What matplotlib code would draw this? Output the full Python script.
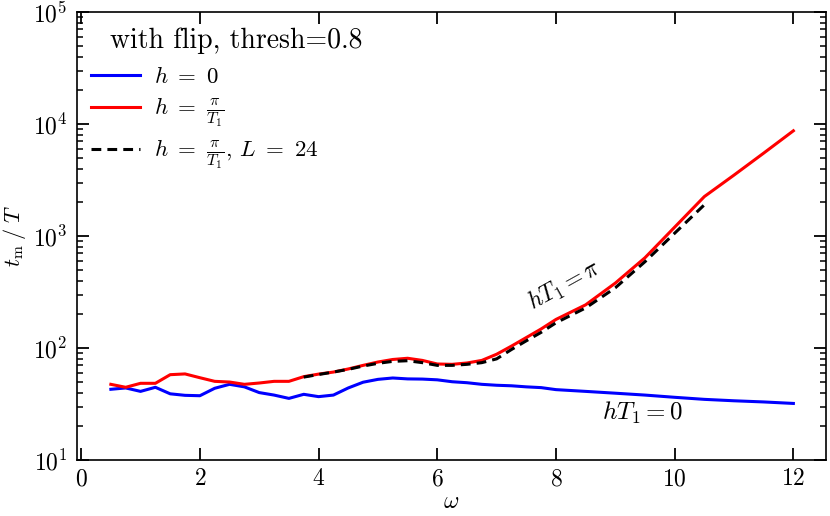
import numpy as np
import matplotlib
matplotlib.use('Agg')
import matplotlib.pyplot as plt

plt.rcParams['font.family'] = 'serif'
plt.rcParams['font.serif'] = ['cmr10']
plt.rcParams['mathtext.fontset'] = 'cm'
plt.rcParams['axes.formatter.use_mathtext'] = True
plt.rcParams['axes.unicode_minus'] = False

# h = 0
w_h0 = [0.5, 0.75, 1.0, 1.25, 1.5, 1.75, 2.0, 2.25, 2.5, 2.75, 3.0, 3.25, 3.5, 3.75,
        4.0, 4.25, 4.5, 4.75, 5.0, 5.25, 5.5, 5.75, 6.0, 6.25, 6.5, 6.75, 7.0, 7.25,
        7.5, 7.75, 8.0, 8.5, 9.0, 9.5, 10.0, 10.5, 11.0, 11.5, 12.0]
t_h0 = [42.8, 44.0, 41.0, 44.6, 39.0, 37.8, 37.5, 43.7, 47.4, 45.0, 40.0, 38.0, 35.5, 38.6,
        36.8, 38.0, 44.0, 49.5, 52.5, 54.0, 53.0, 52.8, 52.0, 50.0, 49.0, 47.4, 46.5, 46.0,
        45.0, 44.3, 42.5, 41.0, 39.5, 38.0, 36.3, 34.8, 33.8, 33.0, 32.0]

# h = pi / T1
w_hpi = [0.5, 0.75, 1.0, 1.25, 1.5, 1.75, 2.0, 2.25, 2.5, 2.75, 3.0, 3.25, 3.5, 3.75,
         4.0, 4.25, 4.5, 4.75, 5.0, 5.25, 5.5, 5.75, 6.0, 6.25, 6.5, 6.75, 7.0, 7.25,
         7.5, 7.75, 8.0, 8.5, 9.0, 9.5, 10.0, 10.5, 11.0, 11.5, 12.0]
t_hpi = [47.4, 44.6, 48.4, 48.4, 57.8, 58.7, 54.3, 50.4, 49.7, 47.4, 48.7, 50.4, 50.4, 55.5,
         58.5, 61.0, 65.0, 70.0, 75.0, 79.0, 81.0, 77.5, 72.0, 71.5, 73.5, 77.5, 88.0, 104.0,
         124.0, 148.0, 180.0, 243.0, 380.0, 640.0, 1200.0, 2250.0, 3500.0, 5500.0, 8700.0]

# h = pi / T1, L = 24
w_L24 = [3.75, 4.0, 4.25, 4.5, 4.75, 5.0, 5.25, 5.5, 5.75, 6.0, 6.25, 6.5, 6.75, 7.0,
         7.25, 7.5, 7.75, 8.0, 8.5, 9.0, 9.5, 10.0, 10.5]
t_L24 = [55.0, 58.0, 61.0, 64.5, 69.0, 73.0, 76.0, 77.0, 74.0, 70.0, 70.0, 71.5, 74.0, 80.0,
         97.0, 116.0, 138.0, 168.0, 228.0, 345.0, 590.0, 1060.0, 1900.0]

x_ticks = [0, 2, 4, 6, 8, 10, 12]

fig = plt.figure(figsize=(8.3, 5.16), dpi=100)
ax = fig.add_axes([0.0928, 0.1085, 0.9024, 0.8682])

ax.plot(w_h0, t_h0, color='#0000ff', lw=2.2, label=r'$h\ =\ 0$')
ax.plot(w_hpi, t_hpi, color='#ff0000', lw=2.2, label=r'$h\ =\ \frac{\pi}{T_1}$')
ax.plot(w_L24, t_L24, color='black', lw=2.2, ls=(0, (3.2, 2.0)),
        label=r'$h\ =\ \frac{\pi}{T_1}$, $L\ =\ 24$')

ax.set_yscale('log')
ax.set_xlim(-0.07, 12.55)
ax.set_ylim(10, 1e5)
ax.set_xticks(x_ticks)

ax.tick_params(which='both', direction='in', top=True, right=True, labelsize=17)
ax.tick_params(which='major', length=8.5, width=1.3)
ax.tick_params(which='minor', length=4.3, width=1.1)
ax.tick_params(axis='x', pad=6)
ax.tick_params(axis='y', pad=7)
for s in ax.spines.values():
    s.set_linewidth(1.2)

ax.set_xlabel(r'$\omega$', fontsize=17, labelpad=0)
ax.set_ylabel(r'$t_{\mathrm{m}}\;/\;T$', fontsize=16)
ax.yaxis.set_label_coords(-0.065, 0.5)

ax.text(8.14, 360, r'$hT_1 = \pi$', fontsize=17, rotation=29, ha='center', va='center')
ax.text(9.45, 26.3, r'$hT_1 = 0$', fontsize=18, ha='center', va='center')

ax.text(0.044, 0.9196, 'with flip, thresh=0.8', fontsize=20, transform=ax.transAxes,
        ha='left', va='baseline')
ax.legend(loc='upper left', bbox_to_anchor=(0.0067, 0.9), frameon=False,
          fontsize=16.5, handlelength=2.14, borderaxespad=0, labelspacing=0.4,
          handletextpad=0.6)

fig.savefig('out.png', dpi=100)
